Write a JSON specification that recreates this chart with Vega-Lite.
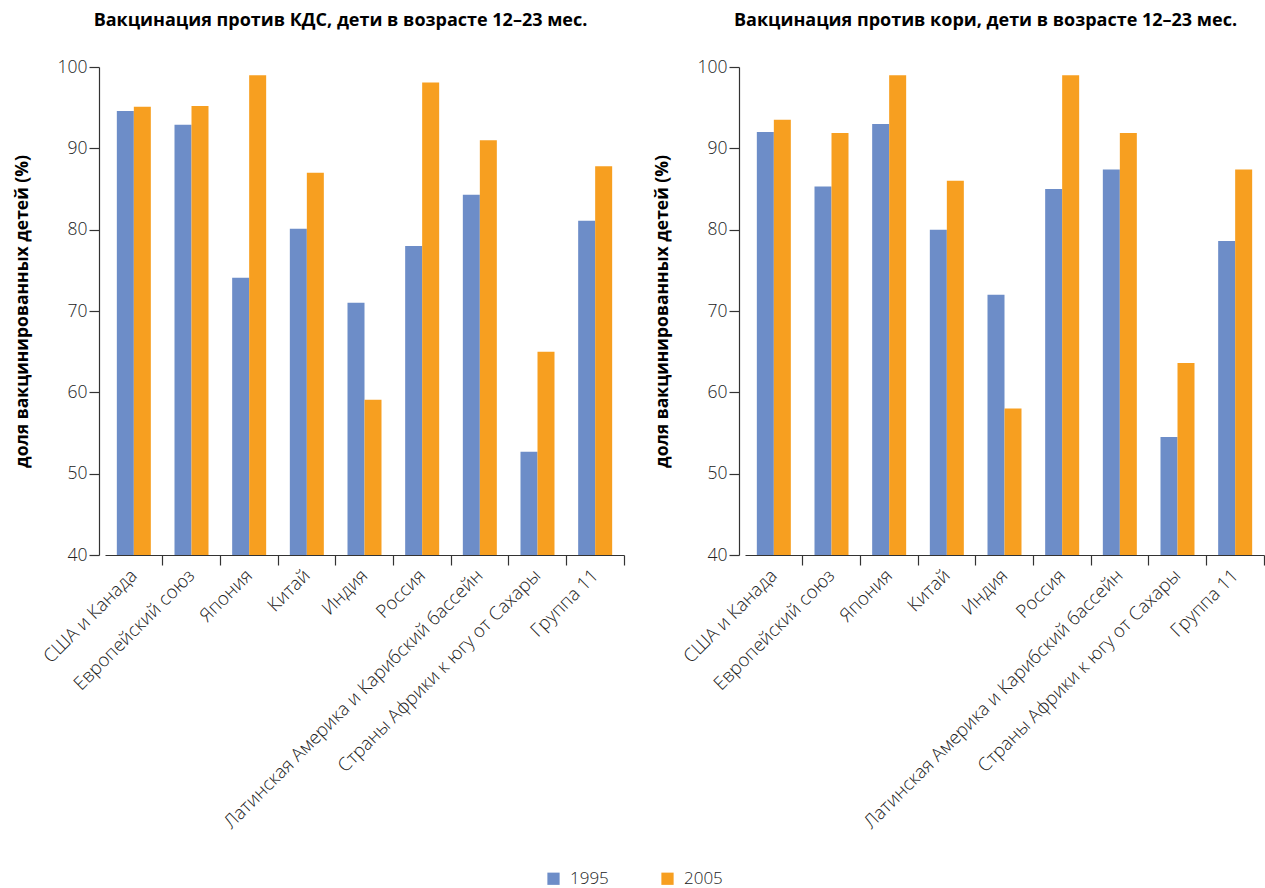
{
  "$schema": "https://vega.github.io/schema/vega-lite/v6.json",
  "background": "white",
  "padding": {"left": 13, "top": 12, "right": 0, "bottom": 4},
  "datasets": {
    "dtp": [
      {"region": "США и Канада", "year": "1995", "value": 94.6},
      {"region": "США и Канада", "year": "2005", "value": 95.1},
      {"region": "Европейский союз", "year": "1995", "value": 92.9},
      {"region": "Европейский союз", "year": "2005", "value": 95.2},
      {"region": "Япония", "year": "1995", "value": 74.1},
      {"region": "Япония", "year": "2005", "value": 99.0},
      {"region": "Китай", "year": "1995", "value": 80.1},
      {"region": "Китай", "year": "2005", "value": 87.0},
      {"region": "Индия", "year": "1995", "value": 71.0},
      {"region": "Индия", "year": "2005", "value": 59.1},
      {"region": "Россия", "year": "1995", "value": 78.0},
      {"region": "Россия", "year": "2005", "value": 98.1},
      {"region": "Латинская Америка и Карибский бассейн", "year": "1995", "value": 84.3},
      {"region": "Латинская Америка и Карибский бассейн", "year": "2005", "value": 91.0},
      {"region": "Страны Африки к югу от Сахары", "year": "1995", "value": 52.7},
      {"region": "Страны Африки к югу от Сахары", "year": "2005", "value": 65.0},
      {"region": "Группа 11", "year": "1995", "value": 81.1},
      {"region": "Группа 11", "year": "2005", "value": 87.8}
    ],
    "measles": [
      {"region": "США и Канада", "year": "1995", "value": 92.0},
      {"region": "США и Канада", "year": "2005", "value": 93.5},
      {"region": "Европейский союз", "year": "1995", "value": 85.3},
      {"region": "Европейский союз", "year": "2005", "value": 91.9},
      {"region": "Япония", "year": "1995", "value": 93.0},
      {"region": "Япония", "year": "2005", "value": 99.0},
      {"region": "Китай", "year": "1995", "value": 80.0},
      {"region": "Китай", "year": "2005", "value": 86.0},
      {"region": "Индия", "year": "1995", "value": 72.0},
      {"region": "Индия", "year": "2005", "value": 58.0},
      {"region": "Россия", "year": "1995", "value": 85.0},
      {"region": "Россия", "year": "2005", "value": 99.0},
      {"region": "Латинская Америка и Карибский бассейн", "year": "1995", "value": 87.4},
      {"region": "Латинская Америка и Карибский бассейн", "year": "2005", "value": 91.9},
      {"region": "Страны Африки к югу от Сахары", "year": "1995", "value": 54.5},
      {"region": "Страны Африки к югу от Сахары", "year": "2005", "value": 63.6},
      {"region": "Группа 11", "year": "1995", "value": 78.6},
      {"region": "Группа 11", "year": "2005", "value": 87.4}
    ]
  },
  "spacing": 121,
  "bounds": "flush",
  "hconcat": [
    {
      "data": {"name": "dtp"},
      "title": {"text": "Вакцинация против КДС, дети в возрасте 12–23 мес.", "dx": -24},
      "width": 519,
      "height": 488,
      "mark": {"type": "bar", "clip": true},
      "encoding": {
        "x": {"field": "region", "type": "nominal", "sort": null, "title": null,
              "scale": {"paddingInner": 0, "paddingOuter": 0},
              "axis": {"bandPosition": 1, "labelAngle": -45, "labelAlign": "right", "labelBaseline": "middle", "labelPadding": 7, "labelLimit": 0, "labelFontSize": 18.5}},
        "xOffset": {"field": "year", "type": "nominal", "scale": {"paddingInner": 0, "paddingOuter": 0.696}},
        "y": {"field": "value", "type": "quantitative", "title": "доля вакцинированных детей (%)",
              "scale": {"domain": [40, 100], "nice": false, "zero": false},
              "axis": {"values": [40, 50, 60, 70, 80, 90, 100], "titlePadding": 26, "offset": 6}},
        "color": {"field": "year", "type": "nominal", "title": null,
                  "scale": {"domain": ["1995", "2005"], "range": ["#6d8dc8", "#f79f20"]},
                  "legend": {"orient": "none", "legendX": 440, "legendY": 803, "direction": "horizontal", "columnPadding": 50, "symbolType": "square", "symbolSize": 150, "symbolStrokeWidth": 0, "labelFontSize": 17, "labelFont": "Open Sans", "labelFontWeight": 300, "labelColor": "#222", "labelOffset": 8}}
      }
    },
    {
      "data": {"name": "measles"},
      "title": {"text": "Вакцинация против кори, дети в возрасте 12–23 мес.", "dx": -19},
      "width": 519,
      "height": 488,
      "mark": {"type": "bar", "clip": true},
      "encoding": {
        "x": {"field": "region", "type": "nominal", "sort": null, "title": null,
              "scale": {"paddingInner": 0, "paddingOuter": 0},
              "axis": {"bandPosition": 1, "labelAngle": -45, "labelAlign": "right", "labelBaseline": "middle", "labelPadding": 7, "labelLimit": 0, "labelFontSize": 18.5}},
        "xOffset": {"field": "year", "type": "nominal", "scale": {"paddingInner": 0, "paddingOuter": 0.696}},
        "y": {"field": "value", "type": "quantitative", "title": "доля вакцинированных детей (%)",
              "scale": {"domain": [40, 100], "nice": false, "zero": false},
              "axis": {"values": [40, 50, 60, 70, 80, 90, 100], "titlePadding": 26, "offset": 6}},
        "color": {"field": "year", "type": "nominal", "title": null,
                  "scale": {"domain": ["1995", "2005"], "range": ["#6d8dc8", "#f79f20"]}}
      }
    }
  ],
  "resolve": {"scale": {"color": "shared"}, "legend": {"color": "shared"}},
  "config": {
    "view": {"stroke": null},
    "axis": {"grid": false, "labelFont": "Open Sans", "labelFontWeight": 300, "labelFontSize": 17.5, "labelColor": "#222",
             "domainColor": "#333", "tickColor": "#333", "domainWidth": 1.2, "tickWidth": 1.2, "tickSize": 10,
             "titleFont": "Open Sans", "titleFontSize": 17.5, "titleFontWeight": "bold", "titleColor": "#000"},
    "title": {"font": "Open Sans", "fontSize": 18, "fontWeight": "bold", "color": "#000", "offset": 28, "anchor": "middle"}
  }
}
